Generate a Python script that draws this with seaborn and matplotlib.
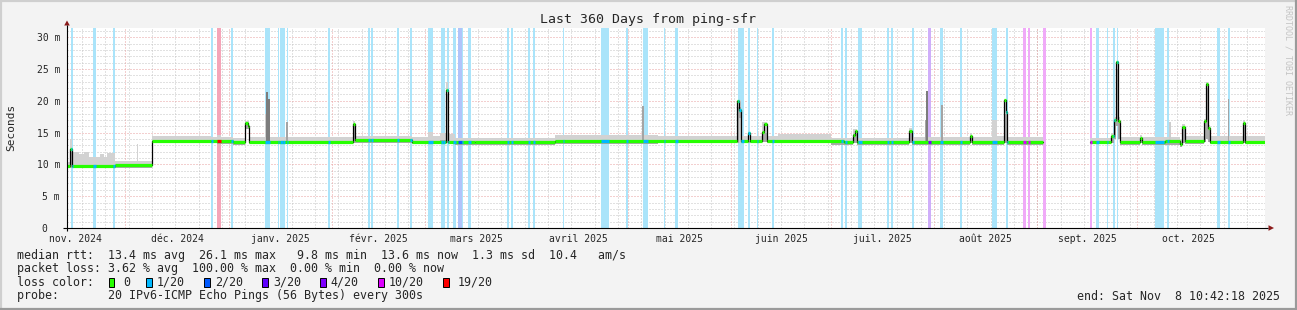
import numpy as np
import pandas as pd
import matplotlib
matplotlib.use("Agg")
import matplotlib.pyplot as plt
import matplotlib.dates as mdates
from matplotlib.patches import Rectangle, Polygon
import seaborn as sns

# ---------------- data ----------------
T_START = "2024-11-13 10:42:18"
T_END = "2025-11-08 10:42:18"

median_times = ["2024-11-13 10:42", "2024-11-14 08:00", "2024-11-15 00:00", "2024-11-28 00:00",
    "2024-12-09 01:00", "2024-12-26 14:00", "2025-01-02 05:00", "2025-01-06 02:00", "2025-01-06 17:00",
    "2025-01-07 00:00", "2025-02-07 07:00", "2025-02-08 02:00", "2025-02-25 00:00", "2025-03-07 07:00",
    "2025-03-07 22:00", "2025-03-16 00:00", "2025-04-09 00:00", "2025-06-02 19:00", "2025-06-03 10:00",
    "2025-06-04 00:00", "2025-06-06 02:00", "2025-06-06 19:00", "2025-06-10 10:00", "2025-06-11 00:00",
    "2025-06-11 20:00", "2025-07-05 00:00", "2025-07-07 17:00", "2025-07-08 07:00", "2025-07-08 22:00",
    "2025-07-24 14:00", "2025-07-25 10:00", "2025-08-11 17:00", "2025-08-12 10:00", "2025-08-21 22:00",
    "2025-08-22 12:00", "2025-08-23 01:00", "2025-09-02 19:00", "2025-09-16 19:00", "2025-09-23 05:00",
    "2025-09-24 00:00", "2025-09-24 19:00", "2025-09-25 05:00", "2025-09-25 19:00", "2025-10-01 19:00",
    "2025-10-02 12:00", "2025-10-09 12:00", "2025-10-13 19:00", "2025-10-14 14:00", "2025-10-15 12:00",
    "2025-10-21 05:00", "2025-10-21 19:00", "2025-10-22 07:00", "2025-10-22 19:00", "2025-11-01 22:00",
    "2025-11-02 14:00", "2025-11-08 10:42"]
median_ms = [9.8, 12.4, 9.8, 9.95, 13.75, 13.65, 13.5, 16.5, 16.1, 13.6, 16.4, 13.8, 13.6, 21.7,
    13.6, 13.5, 13.65, 20.0, 18.5, 13.7, 14.9, 13.7, 15.1, 16.3, 13.7, 13.5, 14.7, 15.3, 13.55,
    15.3, 13.55, 14.5, 13.55, 20.2, 18.3, 13.55, np.nan, 13.6, 14.4, 17.0, 26.1, 16.8, 13.5, 14.1,
    13.5, 13.7, 13.2, 15.9, 13.7, 16.8, 22.6, 15.7, 13.6, 16.5, 13.6, 13.6]

smoke_times = ["2024-11-13 10:42", "2024-11-14 06:00", "2024-11-15 00:00", "2024-11-16 22:00",
    "2024-11-18 10:00", "2024-11-19 22:00", "2024-11-23 12:00", "2024-11-24 10:00", "2024-11-25 14:00",
    "2024-11-28 00:00", "2024-12-04 14:00", "2024-12-04 22:00", "2024-12-09 01:00", "2024-12-26 14:00",
    "2024-12-28 16:00", "2024-12-29 14:00", "2025-01-02 05:00", "2025-01-06 00:00", "2025-01-07 00:00",
    "2025-02-07 07:00", "2025-02-08 02:00", "2025-02-25 00:00", "2025-03-01 19:00", "2025-03-03 07:00",
    "2025-03-05 12:00", "2025-03-07 07:00", "2025-03-07 22:00", "2025-03-10 00:00", "2025-04-09 00:00",
    "2025-05-10 00:00", "2025-06-02 19:00", "2025-06-04 00:00", "2025-06-10 10:00", "2025-06-11 20:00",
    "2025-06-15 00:00", "2025-07-01 00:00", "2025-07-07 17:00", "2025-07-08 22:00", "2025-07-24 14:00",
    "2025-07-25 10:00", "2025-08-11 17:00", "2025-08-12 10:00", "2025-08-18 10:00", "2025-08-20 00:00",
    "2025-08-21 22:00", "2025-08-23 01:00", "2025-09-02 19:00", "2025-09-16 19:00", "2025-09-23 05:00",
    "2025-09-24 00:00", "2025-09-24 19:00", "2025-09-25 05:00", "2025-09-25 19:00", "2025-10-01 19:00",
    "2025-10-02 12:00", "2025-10-13 19:00", "2025-10-14 14:00", "2025-10-15 12:00", "2025-10-21 05:00",
    "2025-10-21 19:00", "2025-10-22 07:00", "2025-10-22 19:00", "2025-11-01 22:00", "2025-11-02 14:00",
    "2025-11-08 10:42"]
smoke_lo = [9.4, 9.5, 9.4, 9.4, 9.4, 9.4, 9.4, 9.4, 9.4, 9.5, 9.5, 9.5, 13.3, 13.3, 13.2, 13.2,
    13.1, 15.6, 13.2, 13.4, 13.3, 13.2, 13.2, 13.2, 13.3, 13.4, 13.2, 13.1, 13.2, 13.3, 13.4, 13.3,
    13.5, 13.3, 13.3, 13.1, 13.3, 13.1, 13.3, 13.1, 13.3, 13.1, 13.1, 13.1, 13.3, 13.1, np.nan,
    13.2, 13.4, 14.0, 16.0, 14.0, 13.1, 13.3, 13.1, 12.8, 13.4, 13.2, 13.5, 14.0, 13.5, 13.2, 13.4,
    13.2, 13.2]
smoke_mid = [9.8, 12.0, 9.8, 9.8, 9.8, 9.8, 9.8, 9.8, 9.8, 9.95, 9.95, 9.95, 13.75, 13.65, 13.6,
    13.6, 13.5, 16.3, 13.6, 16.0, 13.8, 13.6, 13.6, 13.6, 13.8, 21.0, 13.6, 13.5, 13.65, 13.65, 19.0,
    13.7, 15.0, 13.7, 13.7, 13.5, 14.8, 13.55, 15.0, 13.55, 14.3, 13.55, 13.55, 13.55, 18.0, 13.55,
    np.nan, 13.6, 14.4, 16.8, 25.0, 16.5, 13.5, 13.9, 13.5, 13.2, 15.6, 13.7, 16.5, 22.0, 15.5, 13.6,
    16.3, 13.6, 13.6]
smoke_hi = [10.4, 14.0, 12.0, 11.6, 12.0, 11.2, 11.6, 11.2, 11.8, 10.6, 13.2, 10.5, 14.5, 14.3,
    14.7, 14.3, 14.1, 16.9, 14.3, 16.8, 14.5, 14.3, 15.1, 14.4, 15.0, 23.0, 14.8, 14.2, 14.6, 14.4,
    20.2, 14.4, 16.6, 14.5, 14.8, 14.2, 15.6, 14.1, 15.7, 14.3, 14.9, 14.3, 17.0, 14.4, 20.3, 14.3,
    np.nan, 14.2, 15.0, 17.5, 26.2, 17.5, 14.3, 14.7, 14.3, 13.8, 16.3, 14.4, 17.2, 23.0, 16.2, 14.4,
    17.0, 14.4, 14.4]

spike_times = ["2025-01-12 02:00", "2025-01-12 14:00", "2025-01-13 02:00", "2025-01-18 14:00",
    "2025-05-05 14:00", "2025-06-03 17:00", "2025-07-29 12:00", "2025-07-29 22:00",
    "2025-08-03 10:00", "2025-10-10 20:00", "2025-10-28 12:00"]
spike_lo = [13.3, 13.3, 13.3, 13.3, 13.3, 13.3, 13.2, 13.2, 13.2, 13.3, 13.3]
spike_top = [18.0, 21.4, 20.3, 16.6, 19.2, 17.3, 17.0, 21.5, 19.3, 16.7, 20.3]
spike_shade = ["light", "dark", "dark", "mid", "mid", "light", "mid", "dark", "mid", "light", "mid"]

loss_start = ["2024-11-14 12:00", "2024-11-21 09:00", "2024-11-27 08:00", "2024-12-26 14:00",
    "2024-12-28 16:00", "2025-01-01 14:00", "2025-01-12 02:00", "2025-01-15 19:00", "2025-01-16 14:00",
    "2025-01-17 10:00", "2025-01-18 10:00", "2025-01-30 22:00", "2025-02-11 19:00", "2025-02-12 17:00",
    "2025-02-20 17:00", "2025-02-24 12:00", "2025-03-01 19:00", "2025-03-05 17:00", "2025-03-06 12:00",
    "2025-03-07 17:00", "2025-03-09 12:00", "2025-03-11 02:00", "2025-03-12 02:00", "2025-03-13 22:00",
    "2025-03-25 17:00", "2025-03-27 00:00", "2025-04-01 00:00", "2025-04-02 12:00", "2025-04-11 10:00",
    "2025-04-22 19:00", "2025-04-30 10:00", "2025-05-05 14:00", "2025-05-11 19:00", "2025-05-15 07:00",
    "2025-06-03 05:00", "2025-06-06 02:00", "2025-06-08 19:00", "2025-06-13 07:00", "2025-07-03 22:00",
    "2025-07-05 05:00", "2025-07-09 07:00", "2025-07-17 22:00", "2025-07-19 00:00", "2025-07-25 10:00",
    "2025-07-30 02:00", "2025-08-02 22:00", "2025-08-08 19:00", "2025-08-18 10:00", "2025-08-22 12:00",
    "2025-08-27 19:00", "2025-08-29 07:00", "2025-09-02 19:00", "2025-09-16 19:00", "2025-09-18 19:00",
    "2025-09-22 00:00", "2025-09-23 19:00", "2025-09-24 22:00", "2025-10-06 10:00", "2025-10-10 00:00",
    "2025-10-25 02:00", "2025-10-28 05:00"]
loss_end = ["2024-11-15 06:00", "2024-11-22 02:00", "2024-11-28 00:00", "2024-12-27 06:00",
    "2024-12-29 14:00", "2025-01-02 06:00", "2025-01-13 14:00", "2025-01-16 07:00", "2025-01-17 05:00",
    "2025-01-17 22:00", "2025-01-18 19:00", "2025-01-31 14:00", "2025-02-12 10:00", "2025-02-13 07:00",
    "2025-02-21 05:00", "2025-02-25 05:00", "2025-03-03 07:00", "2025-03-06 07:00", "2025-03-07 02:00",
    "2025-03-08 07:00", "2025-03-10 05:00", "2025-03-12 02:00", "2025-03-12 12:00", "2025-03-14 17:00",
    "2025-03-26 07:00", "2025-03-27 14:00", "2025-04-01 17:00", "2025-04-03 05:00", "2025-04-11 19:00",
    "2025-04-25 05:00", "2025-05-01 00:00", "2025-05-06 22:00", "2025-05-12 07:00", "2025-05-15 22:00",
    "2025-06-04 19:00", "2025-06-06 17:00", "2025-06-09 05:00", "2025-06-13 19:00", "2025-07-04 12:00",
    "2025-07-05 22:00", "2025-07-10 05:00", "2025-07-18 14:00", "2025-07-19 14:00", "2025-07-25 22:00",
    "2025-07-31 00:00", "2025-08-03 19:00", "2025-08-09 12:00", "2025-08-20 00:00", "2025-08-23 02:00",
    "2025-08-28 12:00", "2025-08-29 22:00", "2025-09-03 12:00", "2025-09-17 14:00", "2025-09-19 10:00",
    "2025-09-22 10:00", "2025-09-24 12:00", "2025-09-25 10:00", "2025-10-09 00:00", "2025-10-10 14:00",
    "2025-10-26 00:00", "2025-10-28 19:00"]
loss_level = ["1/20", "1/20", "1/20", "1/20", "19/20", "1/20", "1/20", "1/20", "1/20", "1/20",
    "1/20", "1/20", "1/20", "1/20", "1/20", "1/20", "1/20", "1/20", "1/20", "1/20", "1/20", "2/20",
    "1/20", "1/20", "1/20", "1/20", "1/20", "1/20", "1/20", "1/20", "1/20", "1/20", "1/20", "1/20",
    "1/20", "1/20", "1/20", "1/20", "1/20", "1/20", "1/20", "1/20", "1/20", "1/20", "4/20", "1/20",
    "1/20", "1/20", "1/20", "10/20", "10/20", "10/20", "10/20", "1/20", "1/20", "1/20", "1/20",
    "1/20", "1/20", "1/20", "1/20"]

loss_names = ["0", "1/20", "2/20", "3/20", "4/20", "10/20", "19/20"]
loss_colors = ["#26ff00", "#00b8ff", "#0059ff", "#5e00ff", "#7e00ff", "#dd00ff", "#ff0000"]
band_colors = ["#ffffff", "#aae4fa", "#b0c4fa", "#c0b0fa", "#cfaefa", "#f0aaf8", "#f5a5b8"]

month_labels = ["nov. 2024", "déc. 2024", "janv. 2025", "févr. 2025", "mars 2025", "avril 2025",
    "mai 2025", "juin 2025", "juil. 2025", "août 2025", "sept. 2025", "oct. 2025"]
month_starts = ["2024-11-01", "2024-12-01", "2025-01-01", "2025-02-01", "2025-03-01", "2025-04-01",
    "2025-05-01", "2025-06-01", "2025-07-01", "2025-08-01", "2025-09-01", "2025-10-01", "2025-11-01"]
y_ticks = [0, 5, 10, 15, 20, 25, 30]
y_labels = ["0  ", "5 m", "10 m", "15 m", "20 m", "25 m", "30 m"]

title = "Last 360 Days from ping-sfr"
rtt_line = "median rtt:  13.4 ms avg  26.1 ms max   9.8 ms min  13.6 ms now  1.3 ms sd  10.4   am/s"
loss_line = "packet loss: 3.62 % avg  100.00 % max  0.00 % min  0.00 % now"
probe_line = "probe:       20 IPv6-ICMP Echo Pings (56 Bytes) every 300s"
end_text = "end: Sat Nov  8 10:42:18 2025"

# ---------------- style ----------------
W, H = 1297, 310
sns.set_style("white")
plt.rcParams["font.family"] = ["DejaVu Sans Mono", "DejaVu Sans"]
MONO = ["DejaVu Sans Mono", "DejaVu Sans"]


def to_num(lst):
    return mdates.date2num(pd.to_datetime(lst).values)


def steps(t, v):
    xs, ys = [], []
    for i in range(len(t) - 1):
        xs += [t[i], t[i + 1]]
        ys += [v[i], v[i]]
    return np.array(xs), np.array(ys, dtype=float)


fig = plt.figure(figsize=(W / 100, H / 100), dpi=100)
fig.patch.set_facecolor("#f3f3f3")
ax = fig.add_axes([67 / W, 1 - 228 / H, (1265 - 67) / W, 200 / H])
ax.set_facecolor("white")
for s in ax.spines.values():
    s.set_visible(False)

x0, x1 = to_num([T_START, T_END])
ax.set_xlim(x0, x1)
ax.set_ylim(0, 31.46)

# grid
minor_c, major_c = "#c4c4c4", "#e8a0a0"
dash = (0, (1, 2))
for v in range(1, 32):
    if v % 5:
        ax.axhline(v, color=minor_c, lw=0.72, ls=dash, zorder=1)
for d in to_num(pd.date_range("2024-11-18", "2025-11-08", freq="7D")):
    ax.axvline(d, color=minor_c, lw=0.72, ls=dash, zorder=1)
for v in range(5, 32, 5):
    ax.axhline(v, color=major_c, lw=0.72, ls=dash, zorder=1.2)
for d in to_num(month_starts[1:12]):
    ax.axvline(d, color=major_c, lw=0.72, ls=dash, zorder=1.2)

# loss bands
ls_num, le_num = to_num(loss_start), to_num(loss_end)
for s, e, lev in zip(ls_num, le_num, loss_level):
    ax.axvspan(s, e, color=band_colors[loss_names.index(lev)], lw=0, zorder=2)

# smoke
st = to_num(smoke_times)
xs, lo = steps(st, smoke_lo)
_, mid = steps(st, smoke_mid)
_, hi = steps(st, smoke_hi)
ax.fill_between(xs, lo, hi, color="#d2d2d2", lw=0, zorder=3)
ax.fill_between(xs, lo, mid, color="#a9a9a9", lw=0, zorder=3.1)
shade_c = {"light": "#cdcdcd", "mid": "#a4a4a4", "dark": "#7c7c7c"}
sp = to_num(spike_times)
ax.bar(sp, np.array(spike_top) - np.array(spike_lo), bottom=spike_lo, width=0.45,
       color=[shade_c[s] for s in spike_shade], lw=0, zorder=3.2)

# median black step line (seaborn), split at gaps
mt = to_num(median_times)
mv = np.array(median_ms, dtype=float)
cur = 0
rows = []
for i in range(len(mt)):
    if np.isnan(mv[i]):
        rows.append((mt[i], mv[i - 1], cur))
        cur += 1
    else:
        rows.append((mt[i], mv[i], cur))
df = pd.DataFrame(rows, columns=["t", "ms", "seg"])
for sid, g in df.groupby("seg"):
    sns.lineplot(data=g, x="t", y="ms", ax=ax, color="black", lw=0.9, sort=False,
                 estimator=None, drawstyle="steps-post", zorder=4)
ax.set_xlabel("")
ax.set_ylabel("")

# median colored thick segments
starts, ends, vals = [], [], []
for i in range(len(mt) - 1):
    if not np.isnan(mv[i]):
        starts.append(mt[i]); ends.append(mt[i + 1]); vals.append(mv[i])
ax.hlines(vals, starts, ends, colors=loss_colors[0], lw=2.3, zorder=5, capstyle="butt")
for s, e, lev in zip(ls_num, le_num, loss_level):
    for i in range(len(mt) - 1):
        a, b = max(s, mt[i]), min(e, mt[i + 1])
        if b > a and not np.isnan(mv[i]):
            ax.hlines(mv[i], a, b, colors=loss_colors[loss_names.index(lev)], lw=2.3,
                      zorder=5.1, capstyle="butt")

# ticks
ms_num = to_num(month_starts)
mids = (ms_num[:-1] + ms_num[1:]) / 2
ax.set_xticks(mids)
ax.set_xticklabels(month_labels, fontsize=7, family=MONO)
ax.set_yticks(y_ticks)
ax.set_yticklabels(y_labels, fontsize=7, family=MONO)
ax.tick_params(axis="x", length=0, pad=4.2)
ax.tick_params(axis="y", length=0, pad=5.0)

# overlay in pixel coordinates
ov = fig.add_axes([0, 0, 1, 1], zorder=10)
ov.set_xlim(0, W)
ov.set_ylim(H, 0)
ov.axis("off")
ov.patch.set_alpha(0)

# frame
ov.plot([0, W], [0.8, 0.8], color="#cfcfcf", lw=1.6)
ov.plot([0.8, 0.8], [0, H], color="#cfcfcf", lw=1.6)
ov.plot([0, W], [H - 0.8, H - 0.8], color="#9a9a9a", lw=1.6)
ov.plot([W - 0.8, W - 0.8], [0, H], color="#9a9a9a", lw=1.6)

# axes with arrows
ov.plot([67, 67], [230.5, 25], color="black", lw=0.8, solid_capstyle="butt")
ov.plot([63, 1268], [228, 228], color="black", lw=0.8, solid_capstyle="butt")
ov.add_patch(Polygon([[64.2, 25.5], [69.8, 25.5], [67, 20.5]], closed=True, color="#8b1a1a", lw=0))
ov.add_patch(Polygon([[1268.5, 225.2], [1268.5, 230.8], [1274, 228]], closed=True, color="#8b1a1a", lw=0))

ov.text(648, 19.5, title, ha="center", va="center", fontsize=9.5, family=MONO)
ov.text(10.8, 127, "Seconds", ha="center", va="center", rotation=90, fontsize=8, family=MONO)
ov.text(1288.3, 60, "RRDTOOL / TOBI OETIKER", ha="center", va="center", rotation=270,
        fontsize=6, family=MONO, color="#c4c4c4")

FS = 8.38
r1, r2, r3, r4 = 255, 268.5, 282, 296
ov.text(16.6, r1, rtt_line, va="center", fontsize=FS, family=MONO)
ov.text(16.6, r2, loss_line, va="center", fontsize=FS, family=MONO)
ov.text(16.6, r3, "loss color:", va="center", fontsize=FS, family=MONO)
box_x = [108.6, 146, 204, 262, 320, 378, 442.8]
lab_x = [123.5, 156.7, 214.8, 272.8, 330.8, 388.9, 458]
for name, col, bx, lx in zip(loss_names, loss_colors, box_x, lab_x):
    ov.add_patch(Rectangle((bx, r3 - 4.5), 5.8, 9, facecolor=col, edgecolor="black", lw=0.7))
    ov.text(lx, r3, name, va="center", fontsize=FS, family=MONO)
ov.text(16.6, r4, probe_line, va="center", fontsize=FS, family=MONO)
ov.text(1280, r4, end_text, va="center", ha="right", fontsize=FS, family=MONO)

fig.savefig("out.png", dpi=100, facecolor=fig.get_facecolor())
